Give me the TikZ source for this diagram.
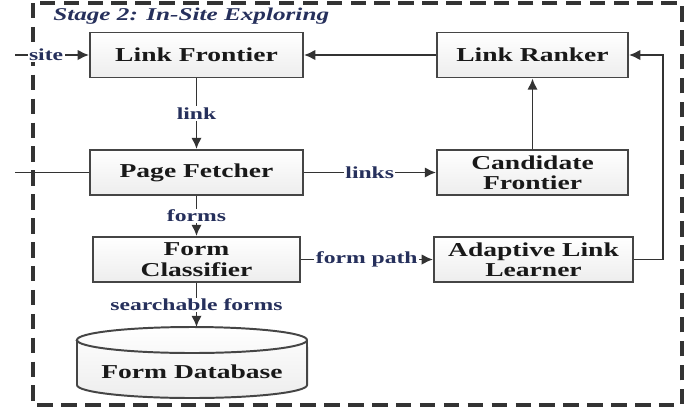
\documentclass[tikz,border=0pt]{standalone}
\usepackage{fontspec}
\setmainfont{Liberation Serif}[FakeStretch=1.4]
\usetikzlibrary{arrows.meta}
\definecolor{boxline}{HTML}{454545}
\definecolor{labelblue}{HTML}{26305C}
\tikzset{
  unit/.style={draw=boxline, line width=1.4pt, top color=white, bottom color=black!7,
    inner sep=0pt, align=center, text=black!90,
    font=\fontsize{14}{14.5}\selectfont\bfseries},
  flow/.style={draw=black!80, line width=1.3pt, -{Latex[length=8pt,width=7.5pt]}},
  tag/.style={fill=white, inner sep=1pt, text=labelblue,
    font=\fontsize{12}{13}\selectfont\bfseries}
}
\begin{document}
\begin{tikzpicture}[x=0.025cm,y=-0.025cm]
\useasboundingbox (0,0) rectangle (694,409);
% stage frame
\draw[black!80, line width=2.2pt, dash pattern=on 11pt off 6pt] (33,3) rectangle (682,405);
\node[anchor=west, inner sep=0pt, text=labelblue, font=\fontsize{12.8}{14}\selectfont\bfseries\itshape] (title) at (53,16) {Stage 2: In-Site Exploring};
% boxes
\node[unit, minimum width=5.325cm, minimum height=1.125cm] (lf) at (196.5,55) {Link Frontier};
\node[unit, minimum width=4.775cm, minimum height=1.125cm] (lr) at (532.5,55) {Link Ranker};
\node[unit, minimum width=5.3cm, minimum height=1.125cm] (pf) at (196.5,172.5) {Page Fetcher};
\node[unit, minimum width=4.775cm, minimum height=1.125cm] (cf) at (532.5,172.5) {Candidate\\Frontier};
\node[unit, minimum width=5.15cm, minimum height=1.125cm] (fc) at (196.5,259.5) {Form\\Classifier};
\node[unit, minimum width=4.975cm, minimum height=1.125cm] (all) at (533.5,259.5) {Adaptive Link\\Learner};
% database drum
\path[draw=boxline, line width=1.4pt, top color=white, bottom color=black!7]
  (77,340) -- (77,385) arc[start angle=180, end angle=360, x radius=2.875cm, y radius=0.325cm]
  -- (307,340) arc[start angle=0, end angle=180, x radius=2.875cm, y radius=0.325cm] -- cycle;
\draw[boxline, line width=1.4pt] (77,340) arc[start angle=180, end angle=360, x radius=2.875cm, y radius=0.325cm];
\node[inner sep=0pt, text=black!90, font=\fontsize{14}{14.5}\selectfont\bfseries] (fdb) at (192,372) {Form Database};
\coordinate (fdbtop) at (192,327);
% free ends
\coordinate (sitein) at (15,55);
\coordinate (pfin) at (15,172.5);
% connectors
\draw[flow] (sitein) -- node[tag, pos=0.42] {site} (lf.west);
\draw[flow] (lr.west) -- (lf.east);
\draw[flow] (lf) -- node[tag] {link} (pf);
\draw[draw=black!80, line width=1.3pt] (pfin) -- (pf.west);
\draw[flow] (pf) -- node[tag] {links} (cf);
\draw[flow] (pf) -- node[tag] {forms} (fc);
\draw[flow] (fc) -- node[tag] {form path} (all);
\draw[flow] (fc.south) -- node[tag] {searchable forms} (fc.south |- fdbtop);
\draw[flow] (cf) -- (lr);
\draw[flow] (all.east) -- ++(29,0) |- (lr.east);
\end{tikzpicture}
\end{document}
